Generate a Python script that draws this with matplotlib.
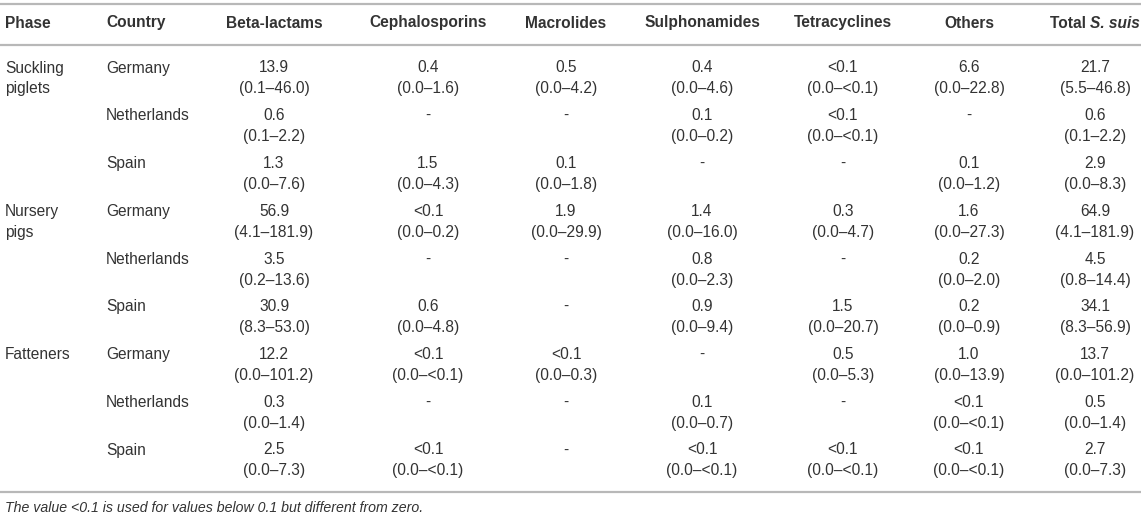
import matplotlib
matplotlib.use("Agg")
import matplotlib.pyplot as plt

plt.rcParams['font.family'] = ['Liberation Sans', 'DejaVu Sans']

# table contents
headers = ["Beta-lactams", "Cephalosporins", "Macrolides", "Sulphonamides",
           "Tetracyclines", "Others"]
phases = [["Suckling", "piglets"], ["Nursery", "pigs"], ["Fatteners"]]
countries = ["Germany", "Netherlands", "Spain"]

beta_lactams = [("13.9", "0.1–46.0"), ("0.6", "0.1–2.2"), ("1.3", "0.0–7.6"),
                ("56.9", "4.1–181.9"), ("3.5", "0.2–13.6"), ("30.9", "8.3–53.0"),
                ("12.2", "0.0–101.2"), ("0.3", "0.0–1.4"), ("2.5", "0.0–7.3")]
cephalosporins = [("0.4", "0.0–1.6"), None, ("1.5", "0.0–4.3"),
                  ("<0.1", "0.0–0.2"), None, ("0.6", "0.0–4.8"),
                  ("<0.1", "0.0–<0.1"), None, ("<0.1", "0.0–<0.1")]
macrolides = [("0.5", "0.0–4.2"), None, ("0.1", "0.0–1.8"),
              ("1.9", "0.0–29.9"), None, None,
              ("<0.1", "0.0–0.3"), None, None]
sulphonamides = [("0.4", "0.0–4.6"), ("0.1", "0.0–0.2"), None,
                 ("1.4", "0.0–16.0"), ("0.8", "0.0–2.3"), ("0.9", "0.0–9.4"),
                 None, ("0.1", "0.0–0.7"), ("<0.1", "0.0–<0.1")]
tetracyclines = [("<0.1", "0.0–<0.1"), ("<0.1", "0.0–<0.1"), None,
                 ("0.3", "0.0–4.7"), None, ("1.5", "0.0–20.7"),
                 ("0.5", "0.0–5.3"), None, ("<0.1", "0.0–<0.1")]
others = [("6.6", "0.0–22.8"), None, ("0.1", "0.0–1.2"),
          ("1.6", "0.0–27.3"), ("0.2", "0.0–2.0"), ("0.2", "0.0–0.9"),
          ("1.0", "0.0–13.9"), ("<0.1", "0.0–<0.1"), ("<0.1", "0.0–<0.1")]
total = [("21.7", "5.5–46.8"), ("0.6", "0.1–2.2"), ("2.9", "0.0–8.3"),
         ("64.9", "4.1–181.9"), ("4.5", "0.8–14.4"), ("34.1", "8.3–56.9"),
         ("13.7", "0.0–101.2"), ("0.5", "0.0–1.4"), ("2.7", "0.0–7.3")]
footnote = "The value <0.1 is used for values below 0.1 but different from zero."

W, H = 1145, 517
fig = plt.figure(figsize=(W / 100, H / 100), dpi=100)
ax = fig.add_axes([0, 0, 1, 1])
ax.set_xlim(0, W)
ax.set_ylim(H, 0)
ax.axis('off')

txt = '#333333'
rule = '#b8b8b8'
fs = 11.2

# column layout (pixels)
x_phase, x_country = 5, 106
col_x = [274, 428, 566, 702, 843, 969]
x_total = 1095
y_head = 23
row_y0, row_dy, sub_dy = 68, 47.75, 21

for y in (4, 45, 492):
    ax.plot([0, 1141], [y, y], color=rule, lw=1.6, solid_capstyle='butt')

ax.text(x_phase, y_head, "Phase", ha='left', va='center', fontsize=fs,
        fontweight='bold', color=txt)
ax.text(x_country, y_head, "Country", ha='left', va='center', fontsize=fs,
        fontweight='bold', color=txt)
for x, h in zip(col_x, headers):
    ax.text(x, y_head, h, ha='center', va='center', fontsize=fs,
            fontweight='bold', color=txt)

# "Total S. suis" with the species name in italics
fig.canvas.draw()
r = fig.canvas.get_renderer()
t1 = ax.text(0, y_head, "Total ", ha='left', va='center', fontsize=fs,
             fontweight='bold', color=txt)
t2 = ax.text(0, y_head, "S. suis", ha='left', va='center', fontsize=fs,
             fontweight='bold', fontstyle='italic', color=txt)
w1 = t1.get_window_extent(r).width
w2 = t2.get_window_extent(r).width
x0 = x_total - (w1 + w2) / 2
t1.set_x(x0)
t2.set_x(x0 + w1)

columns = [beta_lactams, cephalosporins, macrolides, sulphonamides,
           tetracyclines, others, total]
xs = col_x + [x_total]

for i in range(9):
    y = row_y0 + i * row_dy
    if i % 3 == 0:
        for k, line in enumerate(phases[i // 3]):
            ax.text(x_phase, y + k * sub_dy, line, ha='left', va='center',
                    fontsize=fs, color=txt)
    ax.text(x_country, y, countries[i % 3], ha='left', va='center',
            fontsize=fs, color=txt)
    for x, col in zip(xs, columns):
        cell = col[i]
        if cell is None:
            ax.text(x, y, "-", ha='center', va='center', fontsize=fs, color=txt)
        else:
            ax.text(x, y, cell[0], ha='center', va='center', fontsize=fs, color=txt)
            ax.text(x, y + sub_dy, "(" + cell[1] + ")", ha='center',
                    va='center', fontsize=fs, color=txt)

ax.text(x_phase, 508, footnote, ha='left', va='center', fontsize=10.15,
        fontstyle='italic', color=txt)

fig.savefig("out.png", dpi=100)
